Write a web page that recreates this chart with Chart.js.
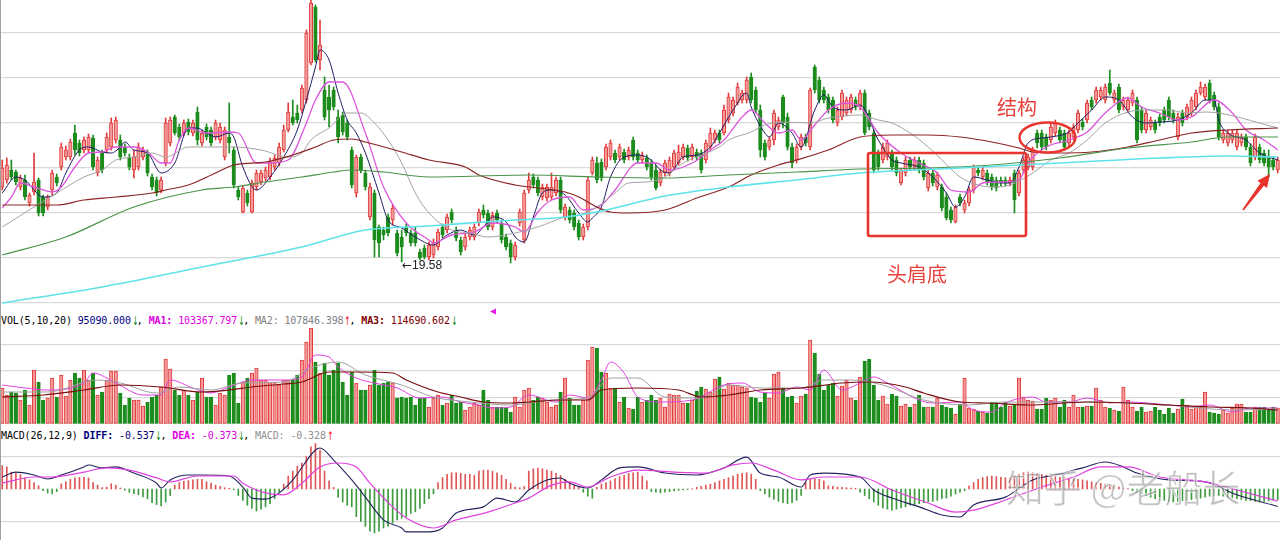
<!DOCTYPE html>
<html><head><meta charset="utf-8">
<script src="https://cdn.jsdelivr.net/npm/chart.js@4.4.1/dist/chart.umd.min.js"></script>
<style>
html,body{margin:0;padding:0;background:#fff;width:1280px;height:540px;overflow:hidden;position:relative;}
canvas{position:absolute;left:0;}
#cPrice{top:0;width:1280px;height:306px;}
#cVol{top:328px;width:1280px;height:96px;}
#cMacd{top:443px;width:1280px;height:97px;}
.hdr{position:absolute;left:1px;font-family:"DejaVu Sans Mono",monospace;font-size:10px;letter-spacing:-0.12px;white-space:pre;line-height:12px;color:#000;}
.b{font-weight:bold;}
.ar{display:inline-block;width:6px;font-family:"DejaVu Sans",sans-serif;font-size:12px;line-height:12px;text-align:center;transform:scaleX(0.6);vertical-align:top;}
.note{position:absolute;font-family:"Noto Sans CJK SC",sans-serif;font-size:20px;line-height:20px;color:#e8403a;white-space:nowrap;}
#lowlab{position:absolute;left:402px;top:259px;font-family:"Liberation Sans",Arial,sans-serif;font-size:12px;line-height:13px;color:#222;white-space:nowrap;}
#lowlab .la{font-family:"DejaVu Sans",sans-serif;font-size:12px;}
#wm{position:absolute;left:1006px;top:464px;font-family:"Noto Sans CJK SC",sans-serif;font-size:38px;line-height:44px;color:rgba(150,150,150,0.6);-webkit-text-stroke:1px rgba(255,255,255,0.7);white-space:nowrap;}
#lb{position:absolute;left:0;top:0;width:1px;height:540px;background:#a0a0a0;}
</style></head>
<body>
<canvas id="cPrice" width="1280" height="306"></canvas>
<canvas id="cVol" width="1280" height="96"></canvas>
<canvas id="cMacd" width="1280" height="97"></canvas>
<div id="lb"></div>
<div class="hdr" style="top:315px">VOL(5,10,20) <span style="color:#000080">95090.000</span><span class="ar" style="color:#008000">↓</span>, <span style="color:#e000e0"><span class="b">MA1:</span> 103367.797</span><span class="ar" style="color:#008000">↓</span>, <span style="color:#808080">MA2: 107846.398</span><span class="ar" style="color:#ff0000">↑</span>, <span style="color:#800000"><span class="b">MA3:</span> 114690.602</span><span class="ar" style="color:#008000">↓</span></div>
<div class="hdr" style="top:430px">MACD(26,12,9) <span style="color:#000080"><span class="b">DIFF:</span> -0.537</span><span class="ar" style="color:#008000">↓</span>, <span style="color:#e000e0"><span class="b">DEA:</span> -0.373</span><span class="ar" style="color:#008000">↓</span>, <span style="color:#909090">MACD: -0.328</span><span class="ar" style="color:#ff0000">↑</span></div>
<div id="lowlab"><span class="la">←</span>19.58</div>
<div class="note" style="left:997px;top:97px">结构</div>
<div class="note" style="left:887px;top:264px">头肩底</div>
<svg width="1280" height="540" style="position:absolute;left:0;top:0;pointer-events:none">
<rect x="868" y="153" width="158" height="83" rx="2" fill="none" stroke="#e8342c" stroke-width="2.6"/>
<ellipse cx="1047.5" cy="137.5" rx="28" ry="15" fill="none" stroke="#e8342c" stroke-width="2.4"/>
<polygon points="1270,174 1267,188 1263.96,185.72 1243.64,210.48 1242.36,209.52 1260.44,183.08 1257.4,180.8" fill="#e8342c"/>
<polygon points="490,311.5 496,308.5 496,314.5" fill="#e020e0"/>
</svg>
<div id="wm">知乎 @老船长</div>
<script>
// ---------- price candles ----------
const open = [
21.08,21.22,21.42,21.38,21.08,21.22,20.76,20.98,21.22,20.88,
20.68,21.02,21.28,21.48,21.68,21.68,22.16,21.96,21.82,21.82,
22.06,21.36,21.76,21.82,21.88,22.02,22.02,21.88,21.68,21.42,
21.48,21.68,21.76,21.28,21.22,21.02,21.56,21.96,22.48,22.28,
22.16,22.38,22.16,22.58,21.96,22.28,22.22,22.08,22.02,21.68,
22.08,21.82,21.02,20.58,20.96,20.58,21.08,21.18,21.26,21.28,
21.48,21.56,21.82,22.22,22.48,22.56,22.62,22.82,23.56,24.68,
23.62,23.02,22.88,23.02,22.48,22.52,22.36,21.82,20.96,21.68,
21.36,20.48,20.96,20.28,20.22,20.48,20.42,20.16,20.08,20.28,
20.16,20.16,19.78,19.86,19.68,19.72,19.88,20.28,20.22,20.58,
20.22,20.02,19.88,20.08,20.08,20.36,20.62,20.56,20.28,20.56,
20.36,20.08,19.96,19.68,20.36,20.02,21.02,21.28,21.22,20.88,
20.86,20.88,20.96,21.22,20.48,20.62,20.56,20.36,20.08,20.28,
21.36,21.56,21.58,21.48,21.68,21.76,21.68,21.78,21.68,22.02,
21.76,21.62,21.66,21.56,21.42,21.16,21.36,21.36,21.48,21.56,
21.68,21.86,21.68,21.78,21.76,21.62,21.88,22.02,22.16,22.16,
22.42,22.56,22.76,22.82,22.82,23.28,23.02,22.62,21.96,21.88,
22.02,22.28,22.88,22.48,21.88,21.62,21.88,22.08,21.88,23.48,
23.22,23.02,22.88,22.82,22.36,22.48,22.56,22.62,22.82,22.68,
22.96,22.56,22.16,21.76,21.62,21.68,21.76,21.62,21.16,21.36,
21.62,21.48,21.62,21.56,21.06,21.36,21.08,21.08,20.88,20.62,
20.38,20.88,20.62,20.76,21.02,21.42,21.28,21.36,21.28,21.22,
21.22,21.22,21.16,21.36,20.96,21.42,21.48,21.48,22.16,22.16,
22.08,22.02,22.16,22.22,22.16,21.96,22.08,22.22,22.38,22.42,
22.82,22.82,22.88,22.82,23.16,22.82,23.08,22.68,22.62,22.76,
22.82,22.62,22.22,22.28,22.36,22.48,22.62,22.82,22.56,22.08,
22.56,22.48,22.56,22.68,22.96,22.88,23.16,22.92,22.68,22.02,
21.96,22.02,21.88,21.96,22.08,21.88,21.68,21.88,21.76,21.68,
21.62,21.42];
const close = [
21.46,21.52,21.28,21.18,21.26,20.88,20.92,21.18,20.56,20.56,
20.88,21.36,21.16,21.88,21.82,21.98,21.82,21.76,22.02,22.08,
21.48,21.62,21.42,22.08,22.36,22.42,21.68,21.76,21.48,21.68,
21.88,21.82,21.36,21.08,20.96,21.22,22.36,22.42,22.16,22.08,
22.36,22.18,22.36,22.02,22.16,22.08,21.96,22.36,22.28,22.22,
21.96,21.12,20.88,21.06,20.76,21.16,21.36,21.36,21.42,21.58,
21.66,21.88,22.22,22.58,22.36,22.42,23.06,24.16,24.76,23.62,
23.92,22.48,22.62,22.68,22.08,22.18,22.08,21.12,21.68,21.42,
21.08,21.08,20.02,19.96,20.12,20.16,20.66,19.76,19.88,20.16,
19.96,19.96,19.66,19.68,19.92,19.98,20.18,20.12,20.48,20.42,
20.06,19.78,20.08,20.22,20.28,20.58,20.52,20.28,20.52,20.42,
20.02,19.88,19.68,19.92,20.58,20.96,21.22,21.12,20.96,21.08,
21.08,21.08,21.22,20.62,20.68,20.42,20.28,20.08,20.28,21.22,
21.62,21.22,21.26,21.88,21.96,21.62,21.88,21.62,21.82,21.68,
21.62,21.72,21.48,21.28,21.06,21.38,21.56,21.62,21.76,21.78,
21.88,21.66,21.88,21.68,21.42,21.96,22.16,22.16,22.02,22.62,
22.88,22.82,23.08,22.96,23.22,22.82,22.62,21.82,21.68,22.02,
22.56,22.42,22.36,21.88,21.56,21.88,22.08,21.96,23.02,23.02,
22.82,22.82,22.62,22.42,22.62,22.96,22.82,22.88,22.68,22.96,
22.16,22.28,21.42,21.48,21.88,21.96,21.48,21.36,21.42,21.62,
21.48,21.62,21.42,21.28,21.36,21.16,21.32,20.66,20.46,20.42,
20.68,20.76,20.76,21.02,21.48,21.36,21.42,21.18,21.08,21.06,
21.16,21.16,21.22,20.82,21.36,21.62,21.68,21.82,21.96,21.88,
21.88,22.28,22.36,22.02,21.88,22.16,22.28,22.56,22.28,22.76,
22.68,23.02,23.02,23.08,22.96,22.96,22.62,22.82,22.82,22.96,
22.02,22.22,22.56,22.42,22.22,22.36,22.42,22.48,22.42,22.48,
22.36,22.68,22.82,22.96,23.08,23.08,22.82,22.68,22.08,22.16,
22.16,22.16,22.16,22.08,21.88,21.56,22.08,21.62,21.56,21.48,
21.48,21.62];
const high = [
21.62,21.66,21.62,21.42,21.32,21.32,20.96,21.76,21.26,20.92,
20.92,21.42,21.34,21.96,21.90,22.04,22.32,22.02,22.08,22.14,
22.12,21.68,21.82,22.16,22.46,22.48,22.12,21.94,21.74,21.82,
21.96,21.88,21.82,21.34,21.28,21.28,22.46,22.48,22.52,22.34,
22.42,22.44,22.42,22.68,22.22,22.34,22.28,22.42,22.36,22.28,
22.76,21.88,21.08,21.10,21.02,21.22,21.42,21.42,21.48,21.66,
21.72,21.96,22.32,22.76,22.82,22.72,23.12,24.22,24.82,24.72,
24.42,23.28,23.12,23.08,22.62,22.58,22.42,21.88,21.72,21.74,
21.42,21.16,21.02,20.32,20.28,20.54,20.72,20.22,20.22,20.34,
20.22,20.28,19.84,19.92,19.98,20.04,20.24,20.34,20.54,20.64,
20.28,20.08,20.14,20.28,20.34,20.64,20.72,20.62,20.58,20.62,
20.42,20.14,20.02,19.98,20.64,21.02,21.36,21.34,21.28,21.14,
21.14,21.36,21.28,21.28,20.74,20.68,20.62,20.42,20.34,21.28,
21.68,21.68,21.64,21.94,22.02,21.82,21.94,21.84,21.88,22.08,
21.82,21.78,21.72,21.62,21.52,21.44,21.62,21.68,21.82,21.92,
21.94,21.92,21.94,21.84,21.82,22.02,22.26,22.22,22.22,22.72,
22.96,22.88,23.16,23.02,23.28,23.36,23.08,22.72,22.02,22.08,
22.62,22.48,22.92,22.56,21.96,21.94,22.14,22.14,23.06,23.52,
23.28,23.08,22.94,22.88,22.68,23.02,22.88,22.94,22.88,23.02,
23.02,22.62,22.22,21.82,21.96,22.02,21.82,21.68,21.46,21.68,
21.68,21.68,21.68,21.62,21.42,21.42,21.38,21.14,20.96,20.68,
20.72,20.94,20.82,21.08,21.52,21.48,21.48,21.42,21.34,21.28,
21.28,21.28,21.28,21.42,21.42,21.68,21.74,21.88,22.22,22.22,
22.14,22.34,22.42,22.28,22.22,22.22,22.34,22.62,22.44,22.82,
22.88,23.08,23.08,23.14,23.42,23.02,23.14,22.88,22.88,23.02,
22.88,22.68,22.62,22.48,22.42,22.54,22.68,22.88,22.62,22.56,
22.62,22.74,22.88,23.02,23.18,23.14,23.22,22.98,22.76,22.22,
22.22,22.22,22.22,22.14,22.14,21.94,22.14,21.94,21.82,21.82,
21.68,21.68];
const low = [
21.02,21.16,21.22,21.12,21.02,20.82,20.70,20.92,20.50,20.50,
20.62,20.92,21.10,21.42,21.62,21.62,21.72,21.70,21.76,21.76,
21.42,21.30,21.36,21.76,21.82,21.96,21.62,21.70,21.42,21.26,
21.42,21.62,21.30,21.02,20.90,20.96,21.50,21.90,22.12,22.02,
22.10,22.12,22.10,21.92,21.90,22.02,21.90,22.02,21.96,21.62,
21.76,21.06,20.82,20.56,20.70,20.56,21.02,21.12,21.20,21.22,
21.42,21.50,21.78,22.18,22.32,22.36,22.56,22.76,23.52,23.58,
23.42,22.42,22.28,22.62,21.96,22.12,22.02,21.06,20.88,21.36,
21.02,20.42,19.68,19.68,20.02,20.10,20.32,19.70,19.58,20.10,
19.90,19.90,19.62,19.64,19.62,19.66,19.82,20.06,20.16,20.36,
20.00,19.72,19.82,20.02,20.02,20.30,20.46,20.22,20.22,20.36,
19.96,19.82,19.56,19.62,20.30,19.96,20.96,21.06,20.90,20.82,
20.80,20.82,20.90,20.56,20.42,20.36,20.22,20.02,20.02,20.22,
21.32,21.16,21.20,21.42,21.62,21.56,21.62,21.56,21.62,21.62,
21.56,21.56,21.42,21.22,21.02,21.10,21.30,21.30,21.42,21.52,
21.62,21.60,21.62,21.62,21.36,21.56,21.82,21.96,21.96,22.12,
22.36,22.50,22.72,22.76,22.76,22.76,22.56,21.68,21.62,21.82,
21.92,22.22,22.26,21.82,21.46,21.56,21.82,21.90,21.82,22.96,
22.76,22.76,22.56,22.36,22.30,22.42,22.50,22.56,22.62,22.62,
22.12,22.22,21.36,21.42,21.56,21.62,21.42,21.30,21.12,21.30,
21.42,21.42,21.36,21.22,21.00,21.10,21.02,20.60,20.42,20.36,
20.36,20.70,20.56,20.70,20.96,21.30,21.22,21.12,21.02,21.00,
21.10,21.10,21.10,20.56,20.90,21.36,21.42,21.42,21.86,21.82,
21.82,21.96,22.10,21.96,21.82,21.90,22.02,22.16,22.22,22.36,
22.62,22.76,22.82,22.76,22.92,22.76,22.56,22.62,22.56,22.70,
21.96,22.16,22.16,22.22,22.16,22.30,22.36,22.42,22.36,22.02,
22.30,22.42,22.50,22.62,22.92,22.82,22.76,22.62,22.02,21.96,
21.90,21.96,21.82,21.90,21.82,21.50,21.62,21.56,21.50,21.28,
21.42,21.36];

// ---------- moving average lines on price panel: [candle index, price] ----------
const ma5Line = [[0,20.96],[3,21.28],[5,21.22],[9,20.88],[12,20.96],[14,21.36],[17,21.82],[19,21.88],[22,21.78],[24,21.76],[26,21.88],[27,21.98],[29,21.82],[32,21.76],[35,21.36],[38,21.56],[41,22.26],[43,22.26],[45,22.16],[47,22.08],[50,22.16],[51,22.08],[53,21.48],[56,21.02],[59,21.28],[62,21.68],[65,22.22],[67,22.82],[69,23.48],[70,23.82],[72,23.62],[74,22.96],[76,22.42],[78,22.16],[80,21.76],[83,20.96],[85,20.42],[88,20.26],[91,20.08],[95,19.92],[98,20.12],[101,20.22],[104,20.12],[106,20.28],[108,20.48],[111,20.38],[113,20.08],[115,19.98],[117,20.48],[119,20.96],[121,21.02],[124,20.92],[127,20.56],[129,20.38],[130,20.46],[132,20.68],[134,21.28],[137,21.68],[140,21.72],[143,21.62],[145,21.42],[147,21.36],[150,21.68],[153,21.72],[156,21.88],[158,22.16],[161,22.62],[164,22.96],[165,22.68],[168,22.16],[169,22.08],[171,22.36],[174,22.16],[176,21.88],[179,22.62],[181,22.92],[183,22.68],[186,22.62],[189,22.72],[193,22.02],[196,21.62],[198,21.56],[202,21.48],[205,21.28],[208,20.96],[210,20.68],[212,20.88],[214,21.28],[217,21.22],[220,21.16],[222,21.16],[224,21.48],[226,21.96],[229,22.06],[231,22.08],[235,22.18],[237,22.36],[240,22.62],[243,22.88],[246,22.82],[249,22.48],[252,22.36],[255,22.38],[259,22.42],[262,22.56],[265,22.82],[267,22.82],[268,22.42],[270,22.16],[274,22.02],[277,21.76],[281,21.62]];
const ma10Line = [[0,20.66],[2,20.88],[4,21.16],[7,21.08],[11,20.98],[13,21.08],[16,21.48],[19,21.76],[22,21.78],[25,21.88],[29,21.88],[32,21.78],[35,21.56],[37,21.56],[39,22.02],[41,22.26],[45,22.16],[50,22.18],[52,22.16],[56,21.56],[59,21.56],[63,21.62],[67,22.36],[69,22.82],[72,23.18],[75,23.18],[80,22.16],[84,21.08],[89,20.36],[94,20.02],[95,19.96],[99,20.12],[104,20.18],[108,20.36],[113,20.28],[115,20.18],[118,20.58],[121,20.82],[125,20.88],[128,20.62],[132,20.72],[135,21.02],[140,21.56],[144,21.56],[147,21.42],[152,21.56],[156,21.82],[159,22.02],[163,22.48],[165,22.62],[168,22.36],[171,22.16],[174,22.22],[176,22.02],[179,22.32],[182,22.62],[186,22.76],[189,22.68],[193,22.16],[198,21.76],[202,21.56],[206,21.36],[209,21.02],[213,20.98],[216,21.16],[220,21.18],[224,21.22],[226,21.56],[230,21.88],[235,22.02],[239,22.18],[243,22.56],[248,22.86],[251,22.68],[255,22.56],[259,22.42],[262,22.48],[267,22.82],[271,22.56],[274,22.22],[278,22.02],[281,21.82]];
const ma20Line = [[0,20.28],[7,20.68],[12,20.96],[18,21.28],[22,21.42],[25,21.62],[29,21.68],[33,21.76],[36,21.68],[41,21.88],[45,21.88],[51,21.88],[57,21.82],[63,21.68],[66,21.76],[68,22.02],[72,22.26],[76,22.56],[79,22.56],[82,22.36],[85,22.02],[88,21.56],[91,20.96],[94,20.56],[99,20.22],[103,20.16],[107,20.08],[113,20.16],[118,20.28],[124,20.48],[127,20.52],[131,20.68],[135,20.96],[138,21.16],[142,21.18],[146,21.28],[150,21.56],[153,21.68],[158,21.88],[160,22.02],[165,22.18],[168,22.32],[172,22.38],[178,22.36],[182,22.46],[189,22.52],[193,22.42],[196,22.36],[200,22.16],[204,21.88],[207,21.62],[211,21.28],[215,21.12],[218,21.08],[222,21.12],[227,21.36],[231,21.62],[235,21.76],[239,22.02],[243,22.36],[248,22.58],[252,22.62],[257,22.62],[261,22.56],[265,22.58],[268,22.56],[273,22.46],[277,22.36],[281,22.26]];
const ma60Line = [[0,20.72],[12,20.72],[18,20.82],[25,20.88],[33,20.96],[36,21.02],[41,21.12],[47,21.36],[51,21.52],[58,21.58],[64,21.72],[69,21.88],[73,22.02],[77,22.04],[80,21.98],[88,21.78],[94,21.62],[102,21.48],[105,21.32],[113,21.12],[118,21.06],[124,20.98],[127,20.88],[131,20.68],[134,20.58],[138,20.56],[146,20.62],[153,20.86],[160,21.08],[165,21.32],[171,21.52],[175,21.62],[182,21.82],[189,22.08],[196,22.12],[204,22.12],[211,22.08],[218,21.98],[224,21.86],[227,21.78],[233,21.76],[240,21.78],[248,21.88],[255,22.02],[262,22.16],[270,22.22],[281,22.26]];
const ma120Line = [[0,19.72],[14,20.08],[29,20.68],[44,21.02],[51,21.08],[58,21.18],[66,21.28],[73,21.38],[77,21.42],[84,21.38],[94,21.28],[116,21.32],[131,21.28],[146,21.26],[160,21.32],[175,21.38],[189,21.44],[204,21.46],[218,21.52],[233,21.66],[248,21.86],[262,21.98],[270,22.08],[281,22.08]];
const ma250Line = [[0,18.76],[22,19.08],[44,19.48],[66,19.88],[80,20.22],[94,20.30],[109,20.40],[124,20.48],[131,20.58],[146,20.90],[160,21.08],[175,21.22],[189,21.36],[211,21.46],[233,21.56],[255,21.66],[270,21.70],[281,21.68]];

// ---------- volume ----------
const volume = [
180000,145000,160000,155000,120000,170000,95000,270000,210000,120000,
130000,230000,135000,245000,140000,220000,255000,230000,270000,220000,
255000,145000,160000,220000,265000,265000,155000,95000,130000,120000,
120000,90000,110000,135000,145000,185000,325000,275000,170000,145000,
170000,145000,120000,160000,230000,135000,135000,95000,155000,145000,
245000,255000,105000,210000,230000,255000,280000,220000,220000,210000,
210000,195000,220000,220000,220000,245000,320000,410000,480000,310000,
255000,305000,245000,270000,305000,210000,145000,260000,205000,170000,
170000,195000,270000,195000,205000,210000,205000,130000,135000,130000,
135000,95000,130000,130000,85000,130000,145000,95000,105000,145000,
105000,110000,70000,85000,105000,95000,170000,120000,85000,85000,
85000,80000,60000,135000,85000,170000,180000,120000,135000,130000,
110000,85000,95000,160000,230000,130000,95000,95000,120000,320000,
385000,380000,260000,255000,180000,180000,110000,135000,80000,75000,
135000,110000,120000,145000,120000,130000,85000,150000,145000,145000,
105000,105000,120000,165000,185000,175000,160000,225000,235000,175000,
205000,195000,195000,185000,180000,135000,130000,110000,155000,130000,
250000,260000,180000,135000,140000,105000,140000,150000,420000,355000,
250000,170000,195000,205000,140000,190000,220000,130000,120000,235000,
315000,325000,195000,120000,140000,100000,150000,140000,90000,100000,
85000,100000,145000,85000,85000,85000,130000,95000,85000,80000,
50000,100000,230000,80000,75000,65000,60000,55000,110000,110000,
85000,110000,90000,95000,230000,135000,120000,115000,75000,75000,
130000,120000,130000,85000,120000,85000,145000,85000,85000,90000,
90000,180000,120000,85000,80000,70000,65000,185000,120000,85000,
65000,85000,60000,65000,85000,70000,50000,80000,55000,75000,
125000,95000,75000,85000,85000,160000,60000,55000,50000,70000,
55000,80000,100000,100000,60000,60000,85000,85000,85000,70000,
85000,80000];
const volMa5Line = [[0,195000],[5,180000],[10,170000],[18,205000],[20,255000],[25,205000],[31,145000],[35,145000],[37,220000],[42,180000],[46,155000],[50,185000],[55,220000],[62,220000],[66,235000],[69,345000],[72,335000],[74,285000],[78,230000],[82,205000],[87,180000],[92,130000],[97,135000],[101,110000],[105,95000],[108,80000],[112,85000],[116,145000],[122,110000],[125,145000],[129,130000],[132,220000],[134,310000],[137,255000],[140,135000],[145,110000],[152,120000],[159,195000],[163,205000],[167,160000],[171,155000],[175,185000],[178,170000],[181,270000],[185,170000],[189,205000],[192,235000],[195,205000],[202,120000],[205,105000],[211,110000],[214,70000],[218,60000],[221,105000],[227,135000],[230,110000],[235,110000],[239,130000],[244,105000],[248,110000],[257,95000],[262,85000],[266,95000],[271,60000],[275,80000],[281,80000]];
const volMa10Line = [[0,160000],[10,160000],[21,220000],[26,205000],[34,155000],[39,185000],[46,170000],[53,205000],[62,210000],[68,280000],[74,310000],[80,245000],[88,195000],[95,135000],[103,110000],[112,95000],[121,120000],[129,130000],[134,230000],[140,230000],[146,135000],[154,130000],[160,195000],[167,180000],[176,180000],[181,220000],[187,220000],[194,195000],[203,120000],[213,95000],[221,110000],[230,110000],[239,110000],[248,105000],[257,95000],[271,70000],[281,75000]];
const volMa20Line = [[0,135000],[9,145000],[18,170000],[26,195000],[35,185000],[44,160000],[50,170000],[55,185000],[62,200000],[66,210000],[72,260000],[78,260000],[86,255000],[89,220000],[96,160000],[101,135000],[106,110000],[112,105000],[116,110000],[123,120000],[129,120000],[132,170000],[140,180000],[149,170000],[154,135000],[160,145000],[167,170000],[176,180000],[185,205000],[191,210000],[199,185000],[203,155000],[211,110000],[217,105000],[226,95000],[239,110000],[248,105000],[257,95000],[266,85000],[275,80000],[281,70000]];

// ---------- MACD ----------
const macdHist = [
0.72,0.68,0.52,0.48,0.44,0.34,0.28,0.2,0.1,-0.05,
-0.12,-0.15,-0.08,0.16,0.22,0.3,0.34,0.36,0.36,0.34,
0.2,0.12,0.04,0.06,0.16,0.12,0.03,-0.04,-0.1,-0.14,
-0.18,-0.24,-0.3,-0.42,-0.48,-0.52,-0.4,-0.2,0.12,0.2,
0.24,0.26,0.28,0.3,0.3,0.22,0.18,0.12,0.08,0.04,
0.02,-0.02,-0.2,-0.35,-0.5,-0.6,-0.68,-0.62,-0.55,-0.45,
-0.3,-0.1,0.15,0.4,0.55,0.7,0.8,1.0,1.3,1.4,
1.2,0.55,0.25,0.05,-0.25,-0.4,-0.5,-0.55,-0.85,-1.0,
-1.15,-1.3,-1.35,-1.3,-1.2,-1.15,-1.05,-0.95,-0.9,-0.85,
-0.75,-0.7,-0.6,-0.45,-0.3,-0.15,0.2,0.35,0.45,0.5,
0.5,0.48,0.45,0.45,0.42,0.55,0.58,0.58,0.55,0.5,
0.42,0.3,0.18,0.06,0.04,0.08,0.55,0.62,0.64,0.62,
0.58,0.55,0.48,0.42,0.3,0.2,0.12,0.05,-0.1,-0.22,
-0.28,0.05,0.15,0.2,0.25,0.32,0.38,0.42,0.48,0.5,
0.52,0.4,0.25,-0.08,-0.1,-0.12,-0.1,-0.08,-0.06,-0.04,
-0.03,-0.02,0.01,0.05,0.08,0.12,0.15,0.2,0.25,0.3,
0.35,0.4,0.45,0.48,0.5,0.45,0.3,-0.05,-0.15,-0.25,
-0.32,-0.38,-0.42,-0.45,-0.42,-0.35,-0.2,0.2,0.3,0.32,
0.3,0.25,0.1,0.08,0.06,0.05,0.04,0.03,0.02,-0.1,
-0.2,-0.3,-0.4,-0.5,-0.58,-0.62,-0.65,-0.62,-0.58,-0.55,
-0.5,-0.48,-0.45,-0.42,-0.4,-0.38,-0.35,-0.3,-0.28,-0.22,
-0.15,-0.1,-0.05,0.1,0.2,0.3,0.35,0.38,0.4,0.38,
0.36,0.35,0.35,0.4,0.45,0.5,0.52,0.5,0.48,0.45,
0.42,0.4,0.38,0.36,0.35,0.33,0.32,0.3,0.28,0.25,
0.22,0.2,0.18,0.15,0.12,0.1,0.06,0.03,0.01,-0.05,
-0.1,-0.15,-0.2,-0.25,-0.3,-0.32,-0.35,-0.38,-0.4,-0.38,
-0.36,-0.35,-0.33,-0.3,-0.28,-0.25,-0.22,-0.2,-0.2,-0.22,
-0.25,-0.28,-0.3,-0.32,-0.35,-0.36,-0.38,-0.4,-0.38,-0.36,
-0.34,-0.328];
const diffLine = [[0,0.37],[3,0.52],[7,0.43],[10,0.31],[13,0.43],[18,0.68],[19,0.74],[22,0.65],[25,0.68],[29,0.49],[34,0.18],[35,0.03],[37,0.28],[41,0.43],[44,0.43],[50,0.40],[53,0.06],[55,-0.28],[58,-0.31],[61,-0.12],[64,0.28],[69,1.2],[70,1.26],[73,0.89],[77,0.28],[80,-0.25],[84,-0.95],[88,-1.2],[89,-1.32],[94,-1.32],[97,-1.2],[100,-0.74],[106,-0.55],[109,-0.28],[113,-0.4],[116,-0.03],[120,0.28],[123,0.34],[125,0.18],[129,0.03],[132,0.28],[136,0.65],[140,0.68],[146,0.49],[153,0.43],[159,0.65],[164,0.98],[167,0.49],[171,0.37],[176,0.06],[178,0.43],[181,0.49],[189,0.37],[192,-0.03],[196,-0.28],[202,-0.55],[207,-0.8],[211,-0.86],[214,-0.49],[221,-0.25],[227,0.28],[232,0.43],[238,0.65],[243,0.83],[247,0.68],[250,0.49],[257,0.28],[265,0.22],[272,-0.18],[281,-0.537]];
const deaLine = [[0,0.18],[7,0.37],[11,0.37],[18,0.52],[23,0.65],[28,0.58],[34,0.34],[37,0.22],[43,0.40],[51,0.40],[53,0.18],[58,-0.12],[62,-0.18],[66,0.18],[70,0.68],[74,0.80],[78,0.68],[81,0.18],[86,-0.55],[89,-0.89],[95,-1.2],[100,-0.95],[107,-0.71],[113,-0.43],[116,-0.28],[121,0.12],[125,0.22],[129,0.06],[134,0.37],[140,0.58],[148,0.52],[155,0.49],[161,0.74],[165,0.80],[170,0.58],[176,0.28],[181,0.37],[189,0.37],[196,-0.03],[204,-0.43],[210,-0.71],[214,-0.65],[221,-0.34],[229,0.06],[236,0.37],[242,0.68],[248,0.68],[255,0.37],[265,0.22],[272,-0.03],[281,-0.373]];

// ---------- build charts ----------
const N = open.length;
const labels = open.map((_, i) => i);
const isUp = open.map((o, i) => close[i] >= o);
const UPF = '#f39b9b', UPB = '#e23b3b', DN = '#1c8c1c';

function series(pairs) {
  const d = new Array(N).fill(null);
  pairs.forEach(([i, v]) => { d[i] = v; });
  return d;
}
function line(pairs, color, w) {
  return {type: 'line', data: series(pairs), borderColor: color, borderWidth: w, pointRadius: 0,
          spanGaps: true, cubicInterpolationMode: 'monotone', fill: false, order: 1};
}
function yScale(min, max, gridVals, color) {
  return {
    type: 'linear', min: min, max: max, position: 'left',
    ticks: {display: false},
    grid: {color: color || '#d9d9d9', lineWidth: 1.3, drawTicks: false},
    border: {display: false},
    afterBuildTicks: s => { s.ticks = gridVals.map(v => ({value: v})); },
    afterFit: s => { s.width = 0; }
  };
}
const xScale = {type: 'category', display: false, offset: true, grid: {display: false}};
const base = {
  responsive: false, animation: false, events: [],
  layout: {padding: 0},
  plugins: {legend: {display: false}, tooltip: {enabled: false}, title: {display: false}}
};

new Chart(document.getElementById('cPrice'), {
  type: 'bar',
  data: {
    labels: labels,
    datasets: [
      {type: 'bar', data: high.map((h, i) => [low[i], h]), backgroundColor: isUp.map(u => u ? UPB : DN),
       barThickness: 1, grouped: false, order: 3},
      {type: 'bar', data: open.map((o, i) => [Math.min(o, close[i]), Math.max(o, close[i])]),
       backgroundColor: isUp.map(u => u ? UPF : DN), borderColor: isUp.map(u => u ? UPB : DN),
       borderWidth: 1, borderSkipped: false, barThickness: 3.5, minBarLength: 1, grouped: false, order: 2},
      line(ma250Line, '#5fe3ea', 1.6),
      line(ma120Line, '#4a944a', 1.2),
      line(ma60Line, '#8c2424', 1.2),
      line(ma20Line, '#a3a3a3', 1),
      line(ma10Line, '#dc55dc', 1.3),
      line(ma5Line, '#1e1e66', 1)
    ]
  },
  options: Object.assign({}, base, {
    scales: {x: xScale, y: yScale(18.70, 24.82, [18.76, 19.66, 20.56, 21.46, 22.36, 23.26, 24.16])}
  })
});

new Chart(document.getElementById('cVol'), {
  type: 'bar',
  data: {
    labels: labels,
    datasets: [
      {type: 'bar', data: volume, backgroundColor: isUp.map(u => u ? UPF : DN), borderColor: isUp.map(u => u ? UPB : DN),
       borderWidth: 1, borderSkipped: false, barThickness: 3.5, grouped: false, order: 2},
      line(volMa20Line, '#7a1010', 1.2),
      line(volMa10Line, '#a0a0a0', 1),
      line(volMa5Line, '#e040e0', 1)
    ]
  },
  options: Object.assign({}, base, {
    scales: {x: xScale, y: yScale(0, 480000, [0, 132500, 265000, 397500])}
  })
});

new Chart(document.getElementById('cMacd'), {
  type: 'bar',
  data: {
    labels: labels,
    datasets: [
      {type: 'bar', data: macdHist, backgroundColor: macdHist.map(v => v >= 0 ? '#e05555' : '#3d9a3d'),
       barThickness: 1, grouped: false, order: 2},
      line(deaLine, '#e040e0', 1.2),
      line(diffLine, '#23235f', 1.1)
    ]
  },
  options: Object.assign({}, base, {
    scales: {x: xScale, y: yScale(-1.5692, 1.4154, [-1, 1])}
  })
});
</script>
</body></html>
